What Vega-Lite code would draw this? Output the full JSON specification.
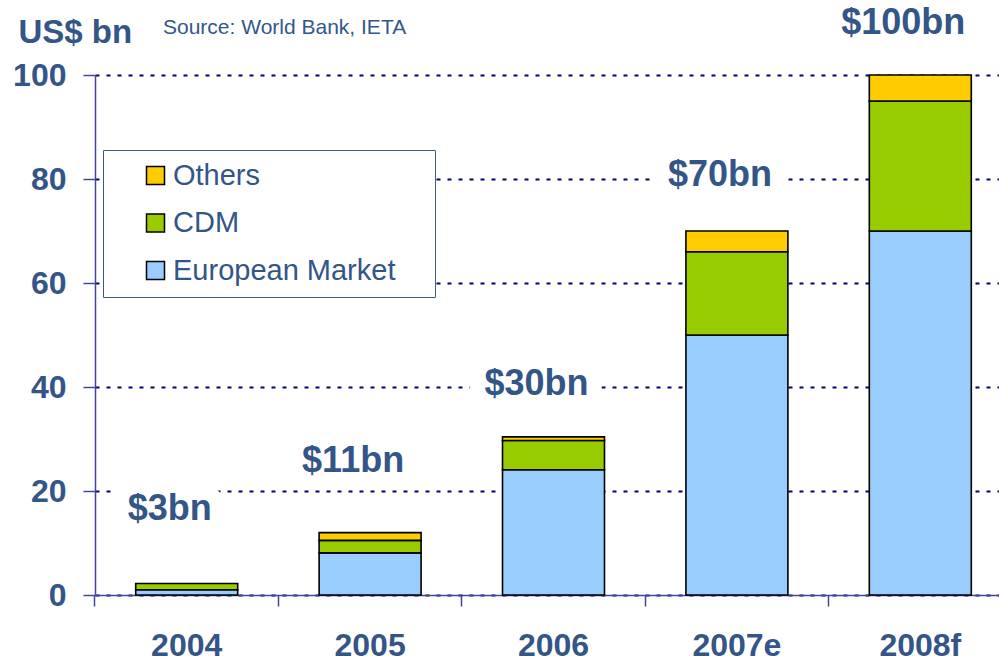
{
  "$schema": "https://vega.github.io/schema/vega-lite/v6.json",
  "autosize": "none",
  "padding": {"left": 95, "top": 75, "right": 0, "bottom": 68},
  "width": 917,
  "height": 520,
  "background": "white",
  "config": {
    "view": {"stroke": null},
    "font": "Liberation Sans"
  },
  "title": {
    "text": "Source: World Bank, IETA",
    "anchor": "start",
    "frame": "group",
    "fontSize": 21,
    "fontWeight": "normal",
    "color": "#34578A",
    "dx": 68,
    "offset": -33
  },
  "datasets": {
    "bars": [
      {"year": "2004", "segment": "European Market", "ord": 1, "value": 1.0},
      {"year": "2004", "segment": "CDM", "ord": 2, "value": 1.2},
      {"year": "2005", "segment": "European Market", "ord": 1, "value": 8.1},
      {"year": "2005", "segment": "CDM", "ord": 2, "value": 2.4},
      {"year": "2005", "segment": "Others", "ord": 3, "value": 1.5},
      {"year": "2006", "segment": "European Market", "ord": 1, "value": 24.1},
      {"year": "2006", "segment": "CDM", "ord": 2, "value": 5.6},
      {"year": "2006", "segment": "Others", "ord": 3, "value": 0.7},
      {"year": "2007e", "segment": "European Market", "ord": 1, "value": 50},
      {"year": "2007e", "segment": "CDM", "ord": 2, "value": 16},
      {"year": "2007e", "segment": "Others", "ord": 3, "value": 4},
      {"year": "2008f", "segment": "European Market", "ord": 1, "value": 70},
      {"year": "2008f", "segment": "CDM", "ord": 2, "value": 25},
      {"year": "2008f", "segment": "Others", "ord": 3, "value": 5}
    ],
    "labels": [
      {"year": "2004", "label": "$3bn", "pos": 14.5},
      {"year": "2005", "label": "$11bn", "pos": 23.6},
      {"year": "2006", "label": "$30bn", "pos": 38.4},
      {"year": "2007e", "label": "$70bn", "pos": 78.75},
      {"year": "2008f", "label": "$100bn", "pos": 107.8}
    ]
  },
  "encoding": {
    "x": {
      "field": "year",
      "type": "nominal",
      "sort": ["2004", "2005", "2006", "2007e", "2008f"],
      "scale": {"paddingInner": 0.444, "paddingOuter": 0.222},
      "axis": {
        "title": null,
        "labelAngle": 0,
        "labelFontSize": 32,
        "labelFontWeight": "bold",
        "labelColor": "#335588",
        "labelPadding": 24,
        "bandPosition": -0.4,
        "tickSize": 11,
        "tickColor": "#4444A0",
        "tickWidth": 1.5,
        "domainColor": "#4444A0",
        "domainWidth": 1.5,
        "grid": false
      }
    }
  },
  "layer": [
    {
      "data": {"name": "bars"},
      "mark": {"type": "bar", "stroke": "black", "strokeWidth": 1.6},
      "encoding": {
        "y": {
          "field": "value",
          "type": "quantitative",
          "aggregate": "sum",
          "stack": "zero",
          "scale": {"domain": [0, 100], "nice": false},
          "axis": {
            "values": [0, 20, 40, 60, 80, 100],
            "title": "US$ bn",
            "titleAngle": 0,
            "titleAlign": "left",
            "titleBaseline": "alphabetic",
            "titleX": -77,
            "titleY": -33,
            "titleFontSize": 33,
            "titleFontWeight": "bold",
            "titleColor": "#335588",
            "labelFontSize": 32,
            "labelFontWeight": "bold",
            "labelColor": "#335588",
            "labelPadding": 17,
            "tickSize": 12,
            "tickColor": "#4444A0",
            "tickWidth": 1.5,
            "domainColor": "#4444A0",
            "domainWidth": 1.5,
            "grid": true,
            "gridColor": "#000080",
            "gridDash": [4, 7],
            "gridWidth": 2
          }
        },
        "color": {
          "field": "segment",
          "type": "nominal",
          "scale": {
            "domain": ["Others", "CDM", "European Market"],
            "range": ["#FFCC00", "#99CC00", "#99CCFF"]
          },
          "legend": {
            "title": "M",
            "titleOrient": "right",
            "titleColor": "white",
            "titleFontSize": 22,
            "titlePadding": 10,
            "orient": "none",
            "legendX": 8,
            "legendY": 75,
            "fillColor": "white",
            "strokeColor": "#3A5A8C",
            "padding": 11,
            "symbolType": "square",
            "symbolSize": 324,
            "symbolStrokeColor": "black",
            "symbolStrokeWidth": 1.5,
            "symbolOpacity": 1,
            "symbolOffset": 27,
            "labelOffset": 3,
            "labelFontSize": 29,
            "labelColor": "#335588",
            "labelLimit": 500,
            "rowPadding": 17.5
          }
        },
        "order": {"field": "ord", "type": "quantitative"}
      }
    },
    {
      "data": {"name": "labels"},
      "mark": {
        "type": "text",
        "fontSize": 36,
        "fontWeight": "bold",
        "fill": "white",
        "stroke": "white",
        "strokeWidth": 30,
        "strokeJoin": "round",
        "baseline": "alphabetic",
        "dx": -17
      },
      "encoding": {
        "y": {"field": "pos", "type": "quantitative"},
        "text": {"field": "label"}
      }
    },
    {
      "data": {"name": "labels"},
      "mark": {
        "type": "text",
        "fontSize": 36,
        "fontWeight": "bold",
        "color": "#335588",
        "baseline": "alphabetic",
        "dx": -17
      },
      "encoding": {
        "y": {"field": "pos", "type": "quantitative"},
        "text": {"field": "label"}
      }
    }
  ]
}
